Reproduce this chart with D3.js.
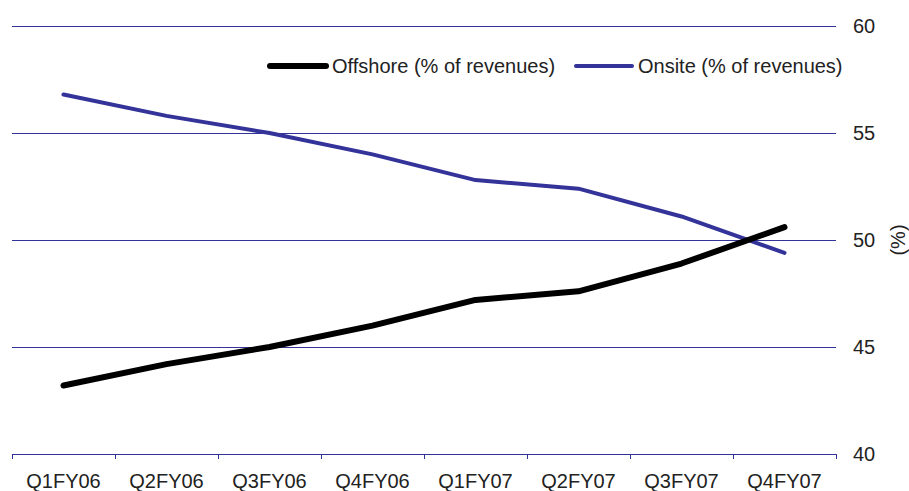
<!DOCTYPE html>
<html><head><meta charset="utf-8">
<script src="https://cdn.jsdelivr.net/npm/d3@7"></script>
<style>body{margin:0;background:#fff}svg{display:block}text{font-family:"Liberation Sans",Arial,sans-serif;fill:#222}</style>
</head><body><svg id="c" width="909" height="491"></svg>
<script>
const categories = ["Q1FY06","Q2FY06","Q3FY06","Q4FY06","Q1FY07","Q2FY07","Q3FY07","Q4FY07"];
const offshore = [43.2, 44.2, 45.0, 46.0, 47.2, 47.6, 48.9, 50.6];
const onsite = [56.8, 55.8, 55.0, 54.0, 52.8, 52.4, 51.1, 49.4];
const yTicks = [40, 45, 50, 55, 60];
const seriesNames = ["Offshore (% of revenues)", "Onsite (% of revenues)"];

const svg = d3.select("#c");
const L = 12, R = 836, T = 26, B = 454;
const blue = "#333399";
const x = d3.scalePoint().domain(categories).range([L, R]).padding(0.5);
const xb = d3.scaleBand().domain(categories).range([L, R]);
const y = d3.scaleLinear().domain([40, 60]).range([B, T]);

// gridlines + right labels
const g = svg.append("g");
g.selectAll("line.grid").data(yTicks).join("line")
  .attr("x1", L).attr("x2", R).attr("y1", d => y(d)).attr("y2", d => y(d))
  .attr("stroke", blue).attr("stroke-width", 1).attr("shape-rendering", "crispEdges");
g.selectAll("text.yl").data(yTicks).join("text")
  .attr("x", 853).attr("y", d => y(d)).attr("dy", "0.35em")
  .attr("font-size", 20).text(d => d);

// x-axis ticks at band boundaries
const bounds = categories.map(c => xb(c)).concat([R]);
g.selectAll("line.xt").data(bounds).join("line")
  .attr("x1", d => d).attr("x2", d => d).attr("y1", B).attr("y2", B + 5)
  .attr("stroke", blue).attr("stroke-width", 1).attr("shape-rendering", "crispEdges");
g.selectAll("text.xl").data(categories).join("text")
  .attr("x", d => x(d)).attr("y", 488).attr("text-anchor", "middle")
  .attr("font-size", 20).text(d => d);

// y label
svg.append("text").attr("transform", "translate(898,240) rotate(-90)")
  .attr("text-anchor", "middle").attr("dy", "0.35em").attr("font-size", 20).text("(%)");

// lines
const line = d3.line().x((d, i) => x(categories[i])).y(d => y(d));
svg.append("path").datum(onsite).attr("d", line).attr("fill", "none")
  .attr("stroke", blue).attr("stroke-width", 4).attr("stroke-linecap", "round").attr("stroke-linejoin", "round");
svg.append("path").datum(offshore).attr("d", line).attr("fill", "none")
  .attr("stroke", "#000").attr("stroke-width", 6).attr("stroke-linecap", "round").attr("stroke-linejoin", "round");

// legend
const leg = [{name: seriesNames[0], color: "#000", w: 6, x0: 270}, {name: seriesNames[1], color: blue, w: 4, x0: 576}];
const lg = svg.append("g");
leg.forEach(d => {
  lg.append("line").attr("x1", d.x0).attr("x2", d.x0 + 56).attr("y1", 66).attr("y2", 66)
    .attr("stroke", d.color).attr("stroke-width", d.w).attr("stroke-linecap", "round");
  lg.append("text").attr("x", d.x0 + 62).attr("y", 66).attr("dy", "0.35em").attr("font-size", 20).text(d.name);
});
</script></body></html>
